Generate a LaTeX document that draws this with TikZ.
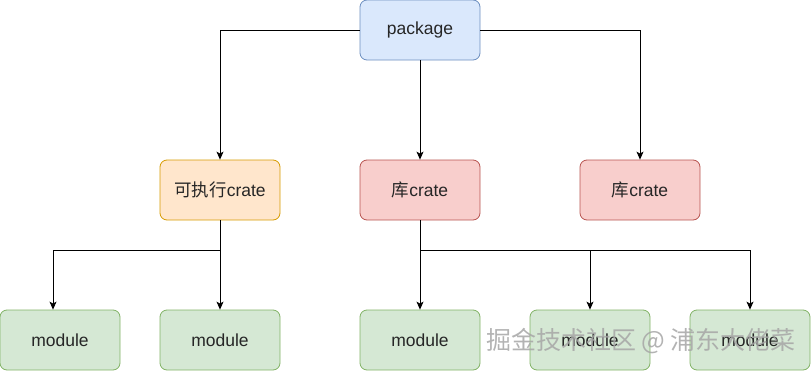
\documentclass[tikz,border=0pt]{standalone}
\usepackage{fontspec}
\setmainfont{Liberation Sans}
\newfontfamily\cjk{Noto Sans CJK SC}
\usetikzlibrary{arrows.meta,positioning}

\definecolor{pkgfill}{HTML}{DAE8FC}
\definecolor{pkgline}{HTML}{6C8EBF}
\definecolor{exefill}{HTML}{FFE6CC}
\definecolor{exeline}{HTML}{D79B00}
\definecolor{libfill}{HTML}{F8CECC}
\definecolor{libline}{HTML}{B85450}
\definecolor{modfill}{HTML}{D5E8D4}
\definecolor{modline}{HTML}{82B366}

\tikzset{
  box/.style={draw, rounded corners=7pt, minimum width=120pt, minimum height=60pt,
    line width=0.8pt, text=black!85, font=\fontsize{17.5pt}{20pt}\selectfont},
  pkgbox/.style={box, fill=pkgfill, draw=pkgline},
  exebox/.style={box, fill=exefill, draw=exeline},
  libbox/.style={box, fill=libfill, draw=libline},
  modbox/.style={box, fill=modfill, draw=modline},
  arr/.style={-{Stealth[length=8pt,width=7pt,inset=2pt]}, line width=0.8pt},
}

\begin{document}
\begin{tikzpicture}[x=1pt,y=-1pt]
\useasboundingbox (0,0) rectangle (811,372);
% top
\node[pkgbox] (pkg) at (420,30) {package};
% crates
\node[exebox] (exe) at (220,190) {{\cjk 可执行}crate};
\node[libbox] (libA) at (420,190) {{\cjk 库}crate};
\node[libbox] (libB) at (640,190) {{\cjk 库}crate};
% modules
\node[modbox] (modA) at (60,340) {module};
\node[modbox] (modB) at (220,340) {module};
\node[modbox] (modC) at (420,340) {module};
\node[modbox] (modD) at (590,340) {module};
\node[modbox] (modE) at (750,340) {module};

\draw[arr] (pkg.west) -| (exe.north);
\draw[arr] (pkg) -- (libA);
\draw[arr] (pkg.east) -| (libB.north);

\coordinate (exesplit) at (220,250);
\draw[line width=0.8pt] (exe.south) -- (exesplit);
\draw[arr] (exesplit) -| ([xshift=-7pt]modA.north);
\draw[arr] (exesplit) -- (modB.north);

\coordinate (libsplit) at (420,250);
\draw[arr] (libA.south) -- (modC.north);
\draw[arr] (libsplit) -| (modD.north);
\draw[arr] (libsplit) -| (modE.north);

% watermark
\node[text=gray!70, opacity=0.85, font=\cjk\fontsize{25pt}{28pt}\selectfont] (mark) at (641,341) {掘金技术社区 @ 浦东大佬菜};
\end{tikzpicture}
\end{document}
